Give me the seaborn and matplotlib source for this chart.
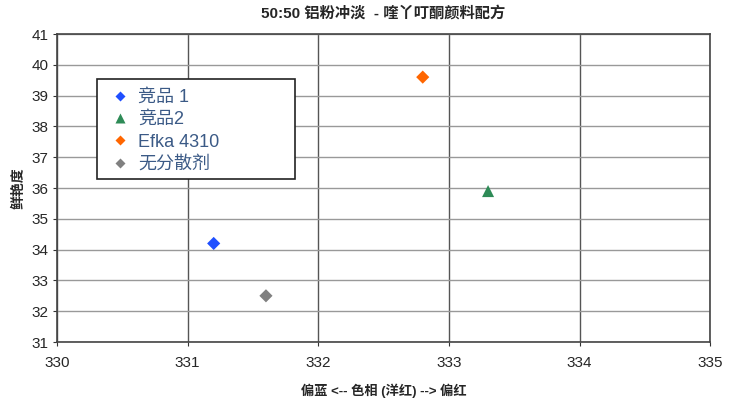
import pandas as pd
import matplotlib
matplotlib.use("Agg")
import matplotlib.pyplot as plt
from matplotlib.patches import Rectangle
import seaborn as sns

# values
samples = ["竞品 1", "竞品2", "Efka 4310", "无分散剂"]
hue_shift = [331.2, 333.3, 332.8, 331.6]
chroma = [34.2, 35.9, 39.6, 32.5]
colors = ["#1f4fff", "#2e8b57", "#ff6600", "#808080"]
shapes = ["D", "^", "D", "D"]
marker_sizes = [45, 75, 45, 45]
x_ticks = [330, 331, 332, 333, 334, 335]
y_ticks = [31, 32, 33, 34, 35, 36, 37, 38, 39, 40, 41]

df = pd.DataFrame({"sample": samples, "x": hue_shift, "y": chroma})

sns.set_style("white")
plt.rcParams['font.family'] = ['Liberation Sans', 'Noto Sans CJK SC']

fig = plt.figure(figsize=(7.39, 4.0), dpi=100)
ax = fig.add_axes([0.077, 0.145, 0.884, 0.77])

sns.scatterplot(data=df, x="x", y="y", hue="sample", style="sample", size="sample",
                palette=dict(zip(samples, colors)),
                markers=dict(zip(samples, shapes)),
                sizes=dict(zip(samples, marker_sizes)),
                edgecolor="none", ax=ax, zorder=3)

ax.set_xlim(330, 335)
ax.set_ylim(31, 41)
ax.set_xticks(x_ticks)
ax.set_yticks(y_ticks)
ax.tick_params(axis="x", direction="out", length=3, pad=7, labelsize=11,
               color="#333333", bottom=True)
ax.tick_params(axis="y", direction="out", length=3, pad=3, labelsize=11,
               color="#333333", left=True)
ax.xaxis.grid(True, color="#555555", linewidth=1)
ax.yaxis.grid(True, color="#999999", linewidth=1)
ax.set_axisbelow(True)
for sp in ax.spines.values():
    sp.set_color("#444444")
    sp.set_linewidth(1.2)

ax.set_title("50:50 铝粉冲淡  - 喹丫叮酮颜料配方", fontsize=11, fontweight="bold", pad=12)
ax.set_xlabel("偏蓝 <-- 色相 (洋红) --> 偏红", fontsize=9.5, fontweight="bold", labelpad=10)
ax.set_ylabel("鲜艳度", fontsize=10, fontweight="bold", labelpad=4)

# legend box drawn separately so it can be wider than the entries
ax.add_patch(Rectangle((0.061, 0.529), 0.303, 0.325, transform=ax.transAxes,
                       facecolor="white", edgecolor="#222222", linewidth=1.2, zorder=4))
leg = ax.legend(loc="upper left", bbox_to_anchor=(0.080, 0.822), fontsize=13,
                frameon=False, borderpad=0, labelspacing=0.3, handletextpad=0.4,
                handlelength=1.2, borderaxespad=0, markerscale=0.75)
leg.set_zorder(5)
for t in leg.get_texts():
    t.set_color("#3b5a86")

fig.savefig("out.png", dpi=100)
